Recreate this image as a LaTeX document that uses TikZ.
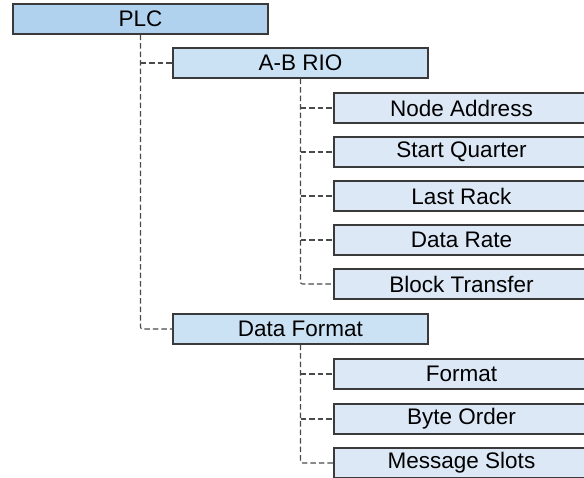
\documentclass[tikz,border=0pt]{standalone}
\usepackage{fontspec}
\setmainfont{Liberation Sans}
\definecolor{topfill}{HTML}{B0D2EE}
\definecolor{midfill}{HTML}{CBE2F5}
\definecolor{leaffill}{HTML}{DCE8F6}
\definecolor{edge}{HTML}{3A3A3A}
\definecolor{conncol}{HTML}{4A4A4A}
\tikzset{
  box/.style={draw=edge, line width=1.1pt, minimum width=255pt, minimum height=30pt, inner sep=0pt, font=\fontsize{22.5}{26}\selectfont, anchor=center},
  topbox/.style={box, fill=topfill},
  midbox/.style={box, fill=midfill},
  leafbox/.style={box, fill=leaffill},
  conn/.style={draw=conncol, line width=1.1pt, dash pattern=on 5.5pt off 3pt, rounded corners=2pt}
}
\begin{document}
\begin{tikzpicture}[x=1pt,y=-1pt]
\useasboundingbox (0,0) rectangle (584,477);
\clip (0,0) rectangle (584,477);
\fill[white] (0,0) rectangle (584,477);
\node[topbox] (plc) at (140.5,19) {PLC};
\node[midbox] (abrio) at (300.5,63) {A-B RIO};
\node[leafbox] (na) at (461.5,108) {Node Address};
\node[leafbox] (sq) at (461.5,152) {Start Quarter};
\node[leafbox] (lr) at (461.5,196) {Last Rack};
\node[leafbox] (dr) at (461.5,240) {Data Rate};
\node[leafbox] (bt) at (461.5,284) {Block Transfer};
\node[midbox] (df) at (300.5,329) {Data Format};
\node[leafbox] (fm) at (461.5,374) {Format};
\node[leafbox] (bo) at (461.5,419) {Byte Order};
\node[leafbox] (ms) at (461.5,463) {Message Slots};
% connectors
\draw[conn] (plc.south) |- (df.west);
\draw[conn] (plc.south |- abrio.west) -- (abrio.west);
\draw[conn] (abrio.south) |- (bt.west);
\foreach \n in {na,sq,lr,dr}
  \draw[conn] (abrio.south |- \n.west) -- (\n.west);
\draw[conn] (df.south) |- (ms.west);
\foreach \n in {fm,bo}
  \draw[conn] (df.south |- \n.west) -- (\n.west);
\end{tikzpicture}
\end{document}
